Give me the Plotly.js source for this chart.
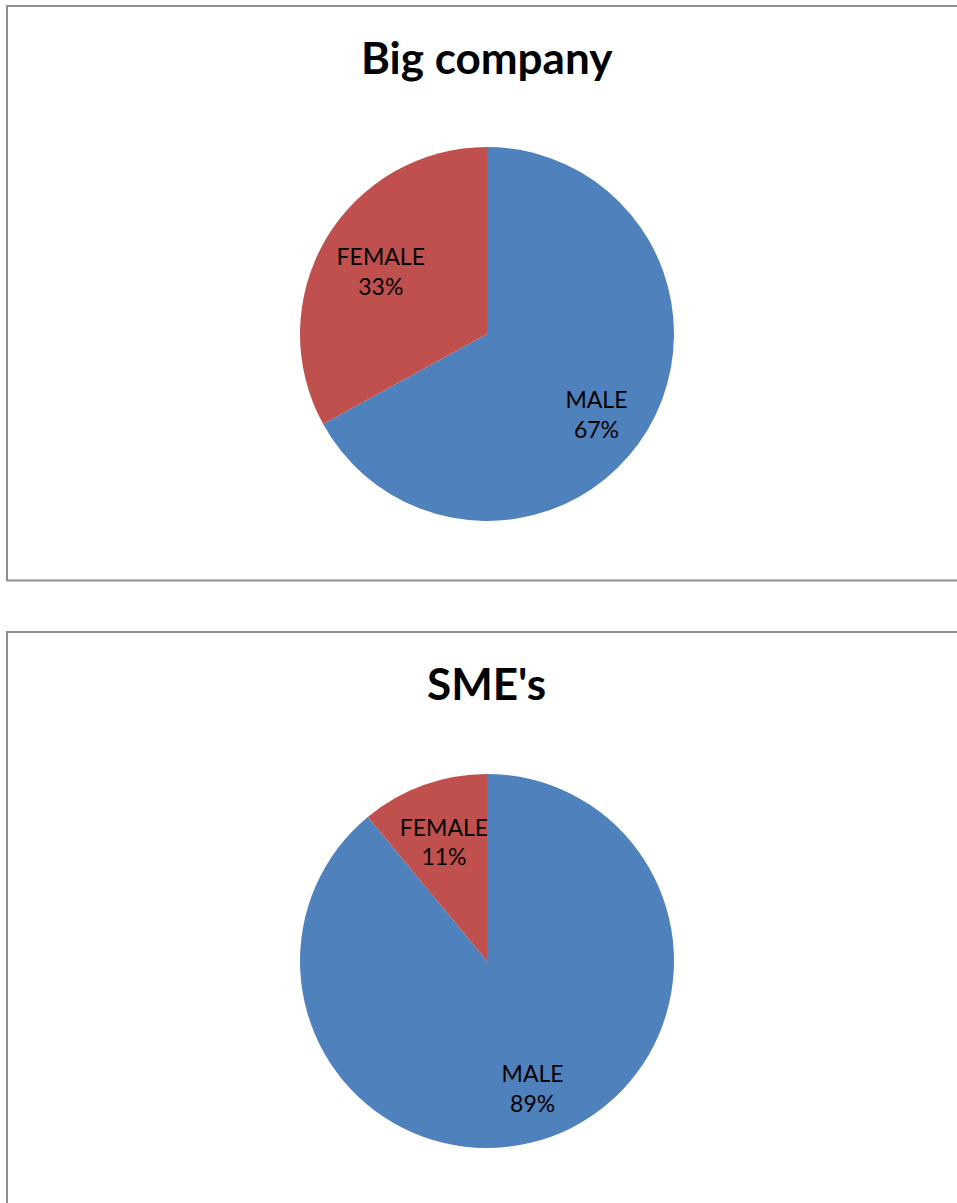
<!DOCTYPE html>
<html>
<head>
<meta charset="utf-8">
<script src="https://cdn.plot.ly/plotly-3.0.1.min.js"></script>
<style>html,body{margin:0;padding:0;background:#fff;}#chart{width:957px;height:1203px;}</style>
</head>
<body>
<div id="chart"></div>
<script>
const chartTitles = ["Big company", "SME's"];
const categories = ["MALE", "FEMALE"];
const bigCompanyValues = [67, 33];
const smeValues = [89, 11];
const sliceColors = ["#4F81BD", "#C0504D"];

const W = 957, H = 1203;
const px = v => v / W;
const py = v => 1 - v / H;
const LABEL_FONT = { family: "Lato, 'Noto Sans', sans-serif", size: 23, color: "#000" };
const TPL = "%{label}<br>%{percent:.0%}";

function domainFor(cx, cy, r) {
  return { x: [px(cx - r), px(cx + r)], y: [py(cy + r), py(cy - r)] };
}

// slices (no text)
function pieTrace(values, cy) {
  return {
    type: "pie", labels: categories, values: values, sort: false,
    direction: "clockwise", rotation: 0,
    marker: { colors: sliceColors, line: { width: 0 } },
    textinfo: "none", showlegend: false,
    domain: domainFor(487, cy, 187)
  };
}

// transparent overlay that only carries the inside labels
function labelTrace(values, cy, r, hole, templates) {
  return {
    type: "pie", labels: categories, values: values, sort: false,
    direction: "clockwise", rotation: 0, hole: hole,
    marker: { colors: ["rgba(0,0,0,0)", "rgba(0,0,0,0)"], line: { width: 0 } },
    texttemplate: templates, textposition: "inside",
    insidetextorientation: "horizontal",
    textfont: LABEL_FONT, showlegend: false,
    domain: domainFor(487, cy, r)
  };
}

const data = [
  pieTrace(bigCompanyValues, 334),
  pieTrace(smeValues, 961),
  labelTrace(bigCompanyValues, 334, 187, 0.36, ["\u00a0<br>" + TPL, ""]),
  labelTrace(bigCompanyValues, 334, 187, 0.32, ["", TPL]),
  labelTrace(smeValues, 961, 187, 0.44, [TPL, ""]),
  labelTrace(smeValues, 961, 170, 0, ["", TPL])
];

const TITLE_FONT = { family: "Lato, 'Noto Sans', sans-serif", size: 44, color: "#000" };

const layout = {
  width: W, height: H,
  margin: { l: 0, r: 0, t: 0, b: 0 },
  paper_bgcolor: "#fff",
  showlegend: false,
  uniformtext: { mode: "show", minsize: 23 },
  shapes: [
    { type: "rect", xref: "paper", yref: "paper", x0: px(7), x1: px(W + 20), y0: py(580.5), y1: py(6), line: { color: "#8f8f8f", width: 2 }, fillcolor: "rgba(0,0,0,0)" },
    { type: "rect", xref: "paper", yref: "paper", x0: px(7), x1: px(W + 20), y0: py(H + 20), y1: py(632), line: { color: "#8f8f8f", width: 2 }, fillcolor: "rgba(0,0,0,0)" }
  ],
  annotations: [
    { text: "<b>" + chartTitles[0] + "</b>", xref: "paper", yref: "paper", x: px(487), y: py(57), xanchor: "center", yanchor: "middle", showarrow: false, font: TITLE_FONT },
    { text: "<b>" + chartTitles[1] + "</b>", xref: "paper", yref: "paper", x: px(487), y: py(683), xanchor: "center", yanchor: "middle", showarrow: false, font: TITLE_FONT }
  ]
};

Plotly.newPlot("chart", data, layout, { displayModeBar: false, staticPlot: true });
</script>
</body>
</html>
